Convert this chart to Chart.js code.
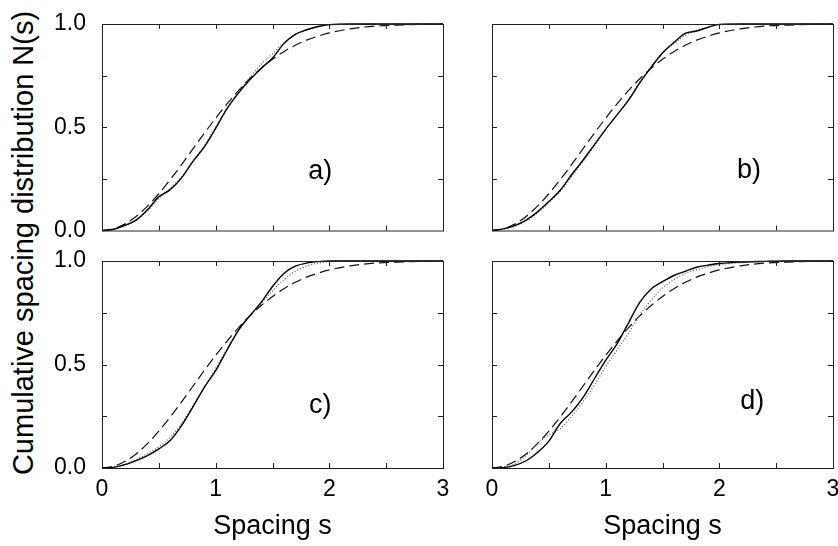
<!DOCTYPE html>
<html>
<head>
<meta charset="utf-8">
<script src="https://cdn.jsdelivr.net/npm/chart.js@4.4.0/dist/chart.umd.min.js"></script>
<style>
  body { margin: 0; background: #fff; }
  #page { position: relative; width: 838px; height: 546px; font-family: "Liberation Sans", Arial, sans-serif; }
  .panel { position: absolute; }
  #ytitle { position: absolute; left: 23px; top: 243px; transform: translate(-50%, -50%) rotate(-90deg);
            white-space: nowrap; font-size: 29px; color: #000; }
</style>
</head>
<body>
<div id="page">
  <div id="ytitle">Cumulative spacing distribution N(s)</div>
  <div class="panel" style="left:0;top:0;width:460px;height:240px"><canvas id="pa"></canvas></div>
  <div class="panel" style="left:460px;top:0;width:378px;height:240px"><canvas id="pb"></canvas></div>
  <div class="panel" style="left:0;top:240px;width:460px;height:306px"><canvas id="pc"></canvas></div>
  <div class="panel" style="left:460px;top:240px;width:378px;height:306px"><canvas id="pd"></canvas></div>
</div>
<script>
// spacing grid (x values)
const spacing = [0, 0.1, 0.2, 0.3, 0.4, 0.5, 0.6, 0.7, 0.8, 0.9, 1.0, 1.1, 1.2, 1.3, 1.4, 1.5,
                 1.6, 1.7, 1.8, 1.9, 2.0, 2.2, 2.4, 2.6, 2.8, 3.0];

// dashed curve (same in all panels)
const wigner = [0, 0.008, 0.031, 0.068, 0.118, 0.178, 0.246, 0.319, 0.395, 0.471, 0.544, 0.613, 0.677,
                0.735, 0.785, 0.829, 0.866, 0.897, 0.922, 0.941, 0.957, 0.978, 0.990, 0.995, 0.998, 0.999];

// panel a
const solidA  = [0, 0.006, 0.025, 0.05, 0.10, 0.163, 0.198, 0.255, 0.335, 0.405, 0.495, 0.59, 0.665,
                 0.73, 0.785, 0.835, 0.905, 0.95, 0.972, 0.988, 0.997, 1, 1, 1, 1, 1];
const dottedA = [0, 0.005, 0.022, 0.05, 0.095, 0.155, 0.205, 0.26, 0.335, 0.41, 0.50, 0.59, 0.67,
                 0.74, 0.805, 0.855, 0.91, 0.948, 0.97, 0.986, 0.996, 1, 1, 1, 1, 1];
// panel b
const solidB  = [0, 0.008, 0.024, 0.05, 0.09, 0.14, 0.195, 0.27, 0.34, 0.415, 0.49, 0.56, 0.63,
                 0.715, 0.79, 0.86, 0.91, 0.955, 0.966, 0.984, 0.998, 1, 1, 1, 1, 1];
const dottedB = [0, 0.006, 0.02, 0.045, 0.085, 0.135, 0.19, 0.26, 0.335, 0.41, 0.49, 0.56, 0.635,
                 0.72, 0.795, 0.86, 0.905, 0.945, 0.97, 0.985, 0.995, 1, 1, 1, 1, 1];
// panel c
const solidC  = [0, 0.003, 0.016, 0.036, 0.06, 0.092, 0.133, 0.205, 0.295, 0.39, 0.47, 0.57, 0.665,
                 0.735, 0.80, 0.877, 0.94, 0.975, 0.99, 0.997, 1, 1, 1, 1, 1, 1];
const dottedC = [0, 0.004, 0.018, 0.04, 0.07, 0.103, 0.148, 0.215, 0.30, 0.39, 0.48, 0.575, 0.665,
                 0.735, 0.795, 0.855, 0.91, 0.95, 0.975, 0.99, 0.997, 1, 1, 1, 1, 1];
// panel d
const solidD  = [0, 0.002, 0.013, 0.035, 0.075, 0.13, 0.215, 0.27, 0.34, 0.43, 0.52, 0.60, 0.70,
                 0.80, 0.865, 0.90, 0.93, 0.95, 0.97, 0.98, 0.988, 0.995, 0.998, 1, 1, 1];
const dottedD = [0, 0.004, 0.02, 0.06, 0.12, 0.16, 0.19, 0.25, 0.32, 0.40, 0.49, 0.57, 0.65,
                 0.74, 0.81, 0.87, 0.91, 0.94, 0.958, 0.972, 0.982, 0.992, 0.997, 1, 1, 1];

// tick positions
const xTicks = [0.5, 1, 1.5, 2, 2.5];
const yTicks = [0.25, 0.5, 0.75];

const FONT = '"Liberation Sans", Arial, sans-serif';

function pts(arr) {
  return spacing.map((s, i) => ({ x: s, y: arr[i] }));
}

// box frame, inward ticks and the panel letter
const framePlugin = {
  id: 'frame',
  afterDatasetsDraw(chart, args, opts) {
    const { ctx, chartArea: a, scales: { x, y } } = chart;
    ctx.save();
    ctx.strokeStyle = '#222';
    ctx.lineWidth = 1;
    ctx.strokeRect(a.left + 0.5, a.top + 0.5, a.right - a.left, a.bottom - a.top);
    ctx.beginPath();
    xTicks.forEach(v => {
      const px = Math.round(x.getPixelForValue(v)) + 0.5;
      ctx.moveTo(px, a.bottom); ctx.lineTo(px, a.bottom - 5);
      ctx.moveTo(px, a.top); ctx.lineTo(px, a.top + 5);
    });
    yTicks.forEach(v => {
      const py = Math.round(y.getPixelForValue(v)) + 0.5;
      ctx.moveTo(a.left, py); ctx.lineTo(a.left + 5, py);
      ctx.moveTo(a.right, py); ctx.lineTo(a.right - 5, py);
    });
    ctx.stroke();
    ctx.fillStyle = '#000';
    ctx.font = '27px ' + FONT;
    ctx.textAlign = 'center';
    ctx.textBaseline = 'middle';
    ctx.fillText(opts.label, x.getPixelForValue(opts.lx), y.getPixelForValue(opts.ly));
    ctx.restore();
  }
};

function makePanel(id, solid, dotted, o) {
  new Chart(document.getElementById(id), {
    type: 'line',
    data: {
      datasets: [
        { data: pts(solid), borderColor: '#000', borderWidth: 1.4, clip: 4 },
        { data: pts(dotted), borderColor: '#555', borderWidth: 1.2, borderDash: [1, 2], clip: 4 },
        { data: pts(wigner), borderColor: '#111', borderWidth: 1.2, borderDash: [10, 5], clip: 4 }
      ]
    },
    options: {
      responsive: true,
      maintainAspectRatio: false,
      animation: false,
      layout: { padding: { top: o.padTop, right: o.padRight, left: 0, bottom: 0 } },
      elements: {
        point: { radius: 0 },
        line: { cubicInterpolationMode: 'monotone' }
      },
      plugins: {
        legend: { display: false },
        tooltip: { enabled: false },
        frame: { label: o.label, lx: o.lx, ly: o.ly }
      },
      scales: {
        x: {
          type: 'linear', min: 0, max: 3,
          grid: { display: false, drawTicks: false },
          border: { display: false },
          ticks: { display: o.xLabels, stepSize: 1, padding: 8, color: '#000', font: { size: 23, family: FONT } },
          title: { display: o.xLabels, text: 'Spacing s', color: '#000', font: { size: 27, family: FONT },
                   padding: { top: 0, bottom: 3 } },
          afterFit: s => { s.height = o.xHeight; s.paddingLeft = 0; s.paddingRight = 0; }
        },
        y: {
          min: 0, max: 1,
          grid: { display: false, drawTicks: false },
          border: { display: false },
          ticks: { display: o.yLabels, stepSize: 0.5, padding: 16, color: '#000',
                   font: { size: 23, family: FONT }, callback: v => v.toFixed(1) },
          afterFit: s => { s.width = o.yWidth; s.paddingTop = 0; s.paddingBottom = 0; }
        }
      }
    },
    plugins: [framePlugin]
  });
}

makePanel('pa', solidA, dottedA, { padTop: 24, padRight: 17, xHeight: 9.5, yWidth: 102,
  xLabels: false, yLabels: true, label: 'a)', lx: 1.92, ly: 0.285 });
makePanel('pb', solidB, dottedB, { padTop: 24, padRight: 5, xHeight: 9.5, yWidth: 32,
  xLabels: false, yLabels: false, label: 'b)', lx: 2.26, ly: 0.29 });
makePanel('pc', solidC, dottedC, { padTop: 21, padRight: 17, xHeight: 78, yWidth: 102,
  xLabels: true, yLabels: true, label: 'c)', lx: 1.92, ly: 0.30 });
makePanel('pd', solidD, dottedD, { padTop: 21, padRight: 5, xHeight: 78, yWidth: 32,
  xLabels: true, yLabels: false, label: 'd)', lx: 2.29, ly: 0.32 });
</script>
</body>
</html>
